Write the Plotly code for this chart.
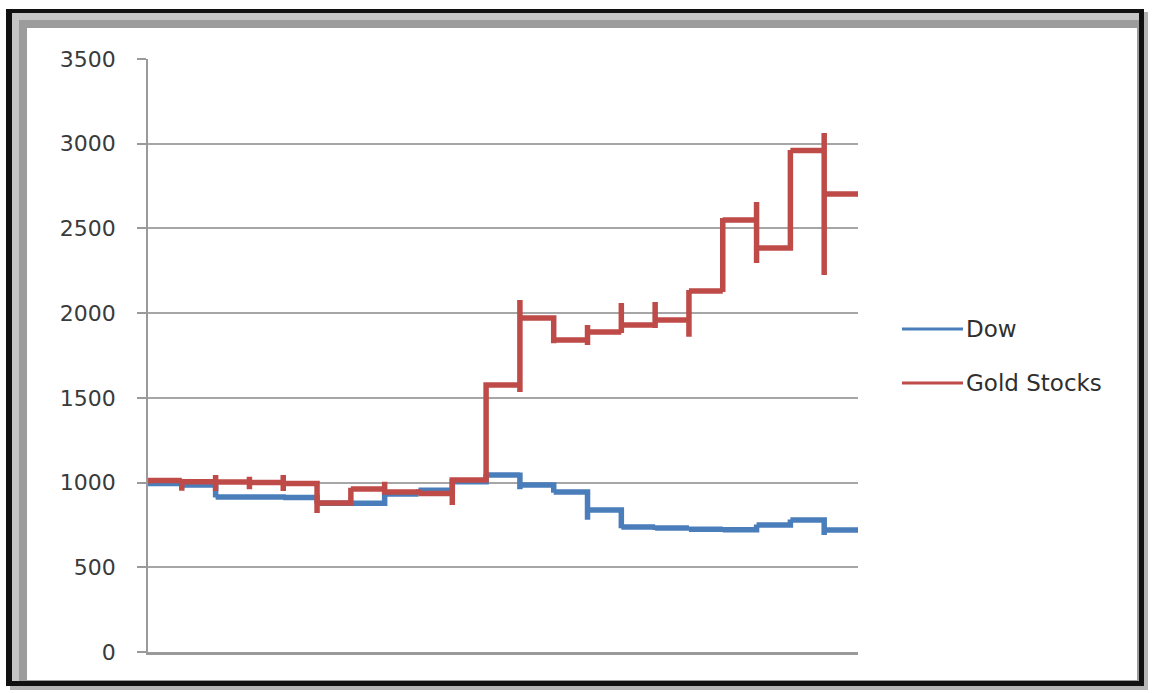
import plotly.graph_objects as go

# Monthly buckets on the date axis; within each month the daily closes stack
# vertically, so each month is summarised by its low, high and closing value.
months = list(range(22))

dow_close = [995, 985, 915, 915, 912, 878, 878, 932, 955, 1005, 1045, 985,
             945, 838, 738, 732, 725, 722, 750, 779, 720, 720]
dow_low = [995, 968, 912, 905, 905, 875, 875, 878, 930, 955, 1005, 960,
           940, 780, 730, 720, 715, 715, 722, 750, 690, 720]
dow_high = [1005, 1000, 985, 925, 915, 912, 885, 932, 960, 1005, 1050, 1060,
            985, 945, 838, 745, 740, 735, 752, 782, 779, 720]

gold_close = [1012, 1005, 1003, 1000, 995, 880, 962, 945, 935, 1015, 1576, 1971,
              1841, 1889, 1930, 1960, 2130, 2550, 2385, 2960, 2703, 2703]
gold_low = [995, 952, 950, 960, 950, 820, 880, 945, 930, 868, 1000, 1535,
            1823, 1812, 1883, 1912, 1860, 2125, 2296, 2385, 2225, 2703]
gold_high = [1015, 1015, 1045, 1035, 1045, 995, 970, 1005, 945, 1015, 1576, 2077,
             1971, 1930, 2060, 2066, 2137, 2562, 2656, 2963, 3063, 2703]

y_ticks = [0, 500, 1000, 1500, 2000, 2500, 3000, 3500]
series_names = ["Dow", "Gold Stocks"]
series_colors = ["#4a7ebb", "#be4b48"]


def month_path(close, low, high):
    """Daily path: every month's values share one x, then carry to the next."""
    xs, ys = [], []
    prev = None
    for m, c, lo, hi in zip(months, close, low, high):
        vals = ([prev] if prev is not None else [])
        vals += [hi, lo, c] if prev is not None and c < prev else [lo, hi, c]
        xs += [m] * len(vals)
        ys += vals
        prev = c
    return xs, ys


fig = go.Figure()
for name, color, (c, lo, hi) in zip(series_names, series_colors,
                                    [(dow_close, dow_low, dow_high),
                                     (gold_close, gold_low, gold_high)]):
    xs, ys = month_path(c, lo, hi)
    fig.add_trace(go.Scatter(x=xs, y=ys, mode="lines", name=name,
                             line=dict(color=color, width=5.5),
                             showlegend=False))

W, H = 1156, 693
L, R, T, B = 148, 858, 59, 652


def px(x):
    return (x - L) / (R - L)


def py(y):
    return (B - y) / (B - T)


def rect(x0, y0, x1, y1, color):
    return dict(type="rect", xref="paper", yref="paper", layer="below",
                x0=px(x0), x1=px(x1), y0=py(y0), y1=py(y1),
                fillcolor=color, line=dict(width=0))


shapes = [
    rect(10, 12, 1148, 690, "#b4b4b4"),   # drop shadow
    rect(6, 9, 1144, 686, "#111111"),     # dark outer frame
    rect(12, 13, 1139, 681, "#c6c6c6"),   # bevel, light
    rect(19, 20, 1139, 681, "#9c9c9c"),   # bevel, dark
    rect(27, 28, 1137, 680, "#ffffff"),   # chart area
]

# legend keys
legend_y = [329, 383]
annotations = []
for name, color, ly in zip(series_names, series_colors, legend_y):
    shapes.append(dict(type="line", xref="paper", yref="paper",
                       x0=px(902), x1=px(963), y0=py(ly), y1=py(ly),
                       line=dict(color=color, width=3)))
    annotations.append(dict(xref="paper", yref="paper", x=px(964), y=py(ly),
                            text=name, showarrow=False, xanchor="left",
                            yanchor="middle",
                            font=dict(family="DejaVu Sans", size=23,
                                      color="#2f2f2f")))

fig.update_layout(
    width=W, height=H,
    margin=dict(l=L, r=W - R, t=T, b=H - B, pad=0),
    paper_bgcolor="white",
    plot_bgcolor="rgba(0,0,0,0)",
    shapes=shapes,
    annotations=annotations,
    showlegend=False,
    xaxis=dict(range=[0, 21], showgrid=False, zeroline=False,
               showticklabels=False, ticks="",
               showline=True, linecolor="#9a9a9a", linewidth=2.5),
    yaxis=dict(range=[0, 3500], tickvals=y_ticks,
               ticktext=[str(v) for v in y_ticks],
               showgrid=True, gridcolor="#a6a6a6", gridwidth=2,
               zeroline=False, showline=True, linecolor="#9a9a9a",
               linewidth=1.5, ticks="outside", ticklen=9,
               tickcolor="#9a9a9a", tickwidth=1.5, ticklabelstandoff=17,
               tickfont=dict(family="DejaVu Sans", size=22, color="#3a3a3a")),
)

fig.write_html("out.html")
